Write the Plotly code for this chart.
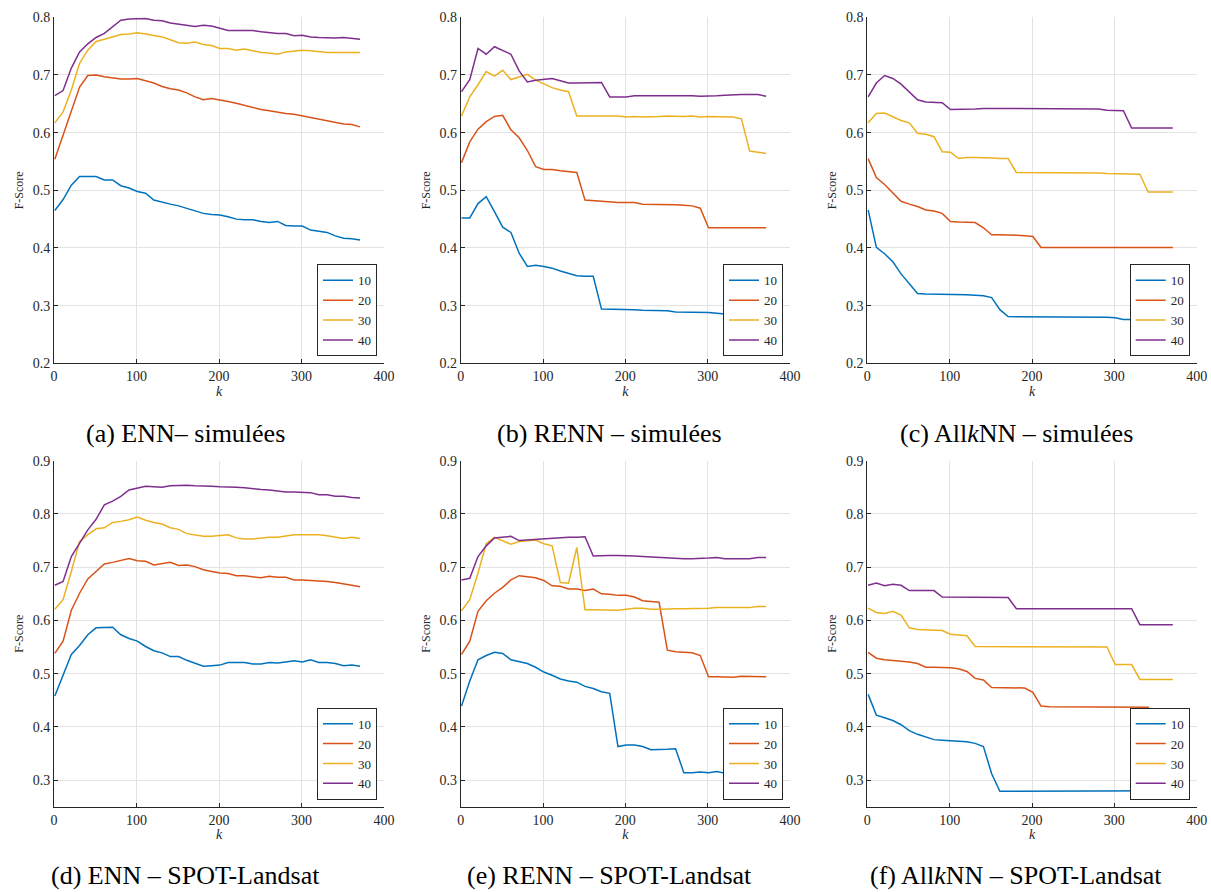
import plotly.graph_objects as go
from plotly.subplots import make_subplots

# =========================
# Données (F-Score en fonction de k)
# =========================
K = list(range(1, 372, 10))
SERIES = ["10", "20", "30", "40"]
COLORS = ["#0072BD", "#D95319", "#EDB120", "#7E2F8E"]

# (a) ENN - simulées
ENN_SIM_10 = [0.465, 0.484, 0.509, 0.524, 0.524, 0.524, 0.518, 0.518, 0.508, 0.504, 0.498, 0.495, 0.483,
              0.479, 0.476, 0.473, 0.469, 0.465, 0.460, 0.458, 0.457, 0.454, 0.450, 0.449, 0.449, 0.446,
              0.444, 0.446, 0.439, 0.438, 0.438, 0.431, 0.429, 0.427, 0.421, 0.417, 0.416, 0.414]
ENN_SIM_20 = [0.554, 0.596, 0.639, 0.679, 0.699, 0.700, 0.697, 0.695, 0.693, 0.693, 0.694, 0.690, 0.686,
              0.680, 0.676, 0.674, 0.669, 0.662, 0.657, 0.659, 0.657, 0.654, 0.651, 0.647, 0.644, 0.640,
              0.638, 0.635, 0.633, 0.632, 0.629, 0.627, 0.624, 0.621, 0.618, 0.615, 0.614, 0.610]
ENN_SIM_30 = [0.617, 0.636, 0.674, 0.720, 0.743, 0.758, 0.762, 0.766, 0.770, 0.771, 0.773, 0.771, 0.768,
              0.766, 0.761, 0.756, 0.755, 0.757, 0.753, 0.751, 0.746, 0.746, 0.743, 0.745, 0.742, 0.739,
              0.738, 0.736, 0.740, 0.742, 0.743, 0.742, 0.740, 0.739, 0.739, 0.739, 0.739, 0.739]
ENN_SIM_40 = [0.664, 0.673, 0.712, 0.740, 0.754, 0.765, 0.772, 0.784, 0.795, 0.797, 0.797, 0.798, 0.795,
              0.794, 0.790, 0.788, 0.786, 0.784, 0.786, 0.785, 0.781, 0.777, 0.777, 0.777, 0.777, 0.775,
              0.773, 0.772, 0.772, 0.768, 0.769, 0.766, 0.765, 0.764, 0.764, 0.765, 0.763, 0.762]

# (b) RENN - simulées
RENN_SIM_10 = [0.452, 0.452, 0.477, 0.489, 0.463, 0.436, 0.427, 0.391, 0.368, 0.370, 0.368, 0.365, 0.360,
               0.356, 0.352, 0.351, 0.351, 0.294, 0.294, 0.293, 0.293, 0.293, 0.292, 0.292, 0.292, 0.291,
               0.289, 0.289, 0.289, 0.289, 0.288, 0.287, 0.286, 0.285, 0.283, 0.281, 0.280, 0.279]
RENN_SIM_20 = [0.548, 0.584, 0.606, 0.619, 0.628, 0.630, 0.605, 0.591, 0.569, 0.541, 0.536, 0.536, 0.534,
               0.532, 0.531, 0.483, 0.482, 0.480, 0.479, 0.479, 0.479, 0.479, 0.476, 0.476, 0.476, 0.475,
               0.475, 0.474, 0.473, 0.469, 0.435, 0.435, 0.435, 0.435, 0.435, 0.435, 0.435, 0.435]
RENN_SIM_30 = [0.629, 0.662, 0.683, 0.706, 0.698, 0.708, 0.692, 0.696, 0.701, 0.691, 0.684, 0.678, 0.674,
               0.671, 0.629, 0.629, 0.629, 0.629, 0.630, 0.629, 0.627, 0.628, 0.627, 0.627, 0.628, 0.629,
               0.628, 0.628, 0.629, 0.627, 0.628, 0.628, 0.628, 0.627, 0.624, 0.568, 0.566, 0.564]
RENN_SIM_40 = [0.671, 0.692, 0.746, 0.736, 0.749, 0.742, 0.736, 0.707, 0.688, 0.691, 0.692, 0.694, 0.690,
               0.686, 0.686, 0.686, 0.686, 0.687, 0.662, 0.662, 0.662, 0.664, 0.664, 0.665, 0.665, 0.665,
               0.664, 0.664, 0.664, 0.663, 0.663, 0.664, 0.665, 0.666, 0.666, 0.666, 0.666, 0.663]

# (c) AllkNN - simulées
ALLKNN_SIM_10 = [0.466, 0.401, 0.390, 0.376, 0.355, 0.338, 0.321, 0.320, 0.320, 0.320, 0.319, 0.319, 0.319,
                 0.318, 0.317, 0.314, 0.293, 0.281, 0.281, 0.281, 0.281, 0.281, 0.281, 0.281, 0.281, 0.281,
                 0.280, 0.280, 0.280, 0.280, 0.279, 0.276, 0.276, 0.276, 0.276, 0.275, 0.275, 0.275]
ALLKNN_SIM_20 = [0.555, 0.522, 0.510, 0.496, 0.481, 0.476, 0.472, 0.466, 0.464, 0.460, 0.446, 0.445, 0.445,
                 0.444, 0.435, 0.423, 0.423, 0.423, 0.422, 0.421, 0.420, 0.401, 0.401, 0.401, 0.401, 0.401,
                 0.401, 0.401, 0.401, 0.401, 0.401, 0.401, 0.401, 0.401, 0.401, 0.401, 0.401, 0.401]
ALLKNN_SIM_30 = [0.617, 0.633, 0.634, 0.627, 0.621, 0.617, 0.599, 0.597, 0.593, 0.567, 0.566, 0.555, 0.557,
                 0.557, 0.557, 0.556, 0.555, 0.555, 0.531, 0.531, 0.531, 0.530, 0.530, 0.530, 0.530, 0.530,
                 0.530, 0.530, 0.530, 0.529, 0.529, 0.529, 0.529, 0.528, 0.497, 0.497, 0.497, 0.497]
ALLKNN_SIM_40 = [0.662, 0.686, 0.699, 0.694, 0.684, 0.671, 0.657, 0.653, 0.653, 0.652, 0.640, 0.640, 0.640,
                 0.641, 0.642, 0.642, 0.642, 0.642, 0.642, 0.642, 0.642, 0.642, 0.642, 0.641, 0.641, 0.641,
                 0.641, 0.641, 0.641, 0.639, 0.638, 0.638, 0.608, 0.608, 0.608, 0.608, 0.608, 0.608]

# (d) ENN - SPOT-Landsat
ENN_SPOT_10 = [0.458, 0.497, 0.536, 0.553, 0.573, 0.586, 0.587, 0.587, 0.573, 0.566, 0.561, 0.551, 0.543,
               0.539, 0.532, 0.532, 0.525, 0.519, 0.514, 0.515, 0.516, 0.521, 0.521, 0.521, 0.518, 0.518,
               0.521, 0.520, 0.522, 0.524, 0.522, 0.526, 0.521, 0.521, 0.519, 0.515, 0.516, 0.514]
ENN_SPOT_20 = [0.538, 0.561, 0.619, 0.651, 0.678, 0.692, 0.706, 0.709, 0.712, 0.716, 0.712, 0.711, 0.704,
               0.706, 0.709, 0.703, 0.704, 0.701, 0.695, 0.692, 0.689, 0.688, 0.684, 0.684, 0.682, 0.680,
               0.683, 0.681, 0.681, 0.676, 0.676, 0.675, 0.675, 0.673, 0.671, 0.669, 0.666, 0.663]
ENN_SPOT_30 = [0.621, 0.639, 0.692, 0.748, 0.761, 0.772, 0.774, 0.784, 0.786, 0.789, 0.794, 0.788, 0.784,
               0.781, 0.774, 0.771, 0.763, 0.760, 0.758, 0.758, 0.760, 0.761, 0.755, 0.753, 0.753, 0.755,
               0.756, 0.756, 0.759, 0.761, 0.761, 0.761, 0.761, 0.759, 0.756, 0.754, 0.756, 0.754]
ENN_SPOT_40 = [0.666, 0.673, 0.720, 0.745, 0.770, 0.790, 0.817, 0.824, 0.833, 0.845, 0.849, 0.852, 0.851,
               0.850, 0.853, 0.854, 0.854, 0.853, 0.853, 0.852, 0.851, 0.851, 0.850, 0.849, 0.847, 0.846,
               0.845, 0.843, 0.841, 0.841, 0.840, 0.840, 0.836, 0.836, 0.833, 0.833, 0.831, 0.830]

# (e) RENN - SPOT-Landsat
RENN_SPOT_10 = [0.439, 0.486, 0.526, 0.534, 0.540, 0.538, 0.526, 0.523, 0.519, 0.512, 0.503, 0.497, 0.490,
                0.486, 0.484, 0.476, 0.472, 0.466, 0.463, 0.363, 0.366, 0.366, 0.363, 0.357, 0.357, 0.358,
                0.359, 0.314, 0.314, 0.315, 0.314, 0.316, 0.313, 0.313, 0.312, 0.311, 0.311, 0.310]
RENN_SPOT_20 = [0.536, 0.561, 0.617, 0.637, 0.651, 0.662, 0.676, 0.684, 0.682, 0.680, 0.675, 0.665, 0.664,
                0.659, 0.659, 0.656, 0.659, 0.650, 0.649, 0.647, 0.647, 0.644, 0.637, 0.636, 0.634, 0.544,
                0.541, 0.540, 0.539, 0.534, 0.494, 0.494, 0.493, 0.493, 0.495, 0.495, 0.495, 0.494]
RENN_SPOT_30 = [0.618, 0.639, 0.689, 0.744, 0.756, 0.749, 0.743, 0.748, 0.750, 0.751, 0.744, 0.740, 0.671,
                0.670, 0.737, 0.620, 0.620, 0.620, 0.620, 0.619, 0.621, 0.623, 0.623, 0.621, 0.621, 0.622,
                0.622, 0.622, 0.622, 0.623, 0.623, 0.624, 0.624, 0.624, 0.625, 0.624, 0.626, 0.626]
RENN_SPOT_40 = [0.676, 0.679, 0.720, 0.740, 0.755, 0.756, 0.758, 0.750, 0.751, 0.753, 0.754, 0.755, 0.756,
                0.756, 0.756, 0.757, 0.721, 0.722, 0.722, 0.722, 0.722, 0.721, 0.720, 0.719, 0.719, 0.718,
                0.716, 0.716, 0.716, 0.716, 0.717, 0.718, 0.716, 0.716, 0.716, 0.716, 0.718, 0.718]

# (f) AllkNN - SPOT-Landsat
ALLKNN_SPOT_10 = [0.461, 0.422, 0.417, 0.412, 0.404, 0.393, 0.386, 0.381, 0.376, 0.375, 0.374, 0.373, 0.372,
                  0.369, 0.363, 0.312, 0.279, 0.279, 0.279, 0.279, 0.279, 0.280, 0.280, 0.280, 0.280, 0.280,
                  0.280, 0.280, 0.280, 0.280, 0.280, 0.280, 0.280, 0.280, 0.280, 0.280, 0.280, 0.280]
ALLKNN_SPOT_20 = [0.540, 0.529, 0.526, 0.525, 0.523, 0.522, 0.519, 0.512, 0.512, 0.512, 0.511, 0.509, 0.504,
                  0.491, 0.488, 0.474, 0.474, 0.474, 0.473, 0.473, 0.465, 0.439, 0.438, 0.438, 0.438, 0.438,
                  0.438, 0.438, 0.438, 0.438, 0.438, 0.438, 0.438, 0.438, 0.437, 0.416, 0.396, 0.396]
ALLKNN_SPOT_30 = [0.623, 0.615, 0.613, 0.617, 0.610, 0.586, 0.583, 0.582, 0.581, 0.581, 0.574, 0.573, 0.571,
                  0.551, 0.551, 0.551, 0.551, 0.551, 0.551, 0.551, 0.551, 0.551, 0.551, 0.551, 0.551, 0.551,
                  0.551, 0.551, 0.551, 0.550, 0.517, 0.517, 0.517, 0.489, 0.489, 0.489, 0.489, 0.489]
ALLKNN_SPOT_40 = [0.666, 0.670, 0.665, 0.668, 0.666, 0.656, 0.656, 0.656, 0.656, 0.644, 0.644, 0.644, 0.644,
                  0.644, 0.644, 0.644, 0.643, 0.643, 0.622, 0.622, 0.622, 0.622, 0.622, 0.622, 0.622, 0.622,
                  0.622, 0.622, 0.622, 0.622, 0.622, 0.622, 0.622, 0.592, 0.592, 0.592, 0.592, 0.592]

CAPTIONS = [
    "(a) ENN– simulées", "(b) RENN – simulées", "(c) All<i>k</i>NN – simulées",
    "(d) ENN – SPOT-Landsat", "(e) RENN – SPOT-Landsat", "(f) All<i>k</i>NN – SPOT-Landsat",
]

PANELS = [
    [ENN_SIM_10, ENN_SIM_20, ENN_SIM_30, ENN_SIM_40],
    [RENN_SIM_10, RENN_SIM_20, RENN_SIM_30, RENN_SIM_40],
    [ALLKNN_SIM_10, ALLKNN_SIM_20, ALLKNN_SIM_30, ALLKNN_SIM_40],
    [ENN_SPOT_10, ENN_SPOT_20, ENN_SPOT_30, ENN_SPOT_40],
    [RENN_SPOT_10, RENN_SPOT_20, RENN_SPOT_30, RENN_SPOT_40],
    [ALLKNN_SPOT_10, ALLKNN_SPOT_20, ALLKNN_SPOT_30, ALLKNN_SPOT_40],
]

# =========================
# Mise en page (pixels)
# =========================
W, H = 1211, 892
COL_X = [(54, 384), (460.7, 790), (867.3, 1196.7)]
ROW_Y = [(17.3, 363.3), (460.7, 806.7)]
CAP_X = [185, 609, 1016]
CAP_Y = [433, 875]
Y_RANGES = [(0.2, 0.8), (0.25, 0.9)]
Y_TICKS = [[0.2, 0.3, 0.4, 0.5, 0.6, 0.7, 0.8], [0.3, 0.4, 0.5, 0.6, 0.7, 0.8, 0.9]]

SERIF = "Liberation Serif"
INK = "#262626"

fig = make_subplots(rows=2, cols=3)

layout = {}
for i, series in enumerate(PANELS):
    r, c = divmod(i, 3)
    leg = "legend" if i == 0 else f"legend{i + 1}"
    for name, ys, color in zip(SERIES, series, COLORS):
        fig.add_trace(
            go.Scatter(
                x=K, y=ys, mode="lines", name=name,
                line=dict(color=color, width=1.5),
                legend=leg,
            ),
            row=r + 1, col=c + 1,
        )

    x0, x1 = COL_X[c]
    y0, y1 = ROW_Y[r]
    sfx = "" if i == 0 else str(i + 1)
    layout[f"xaxis{sfx}"] = dict(
        domain=[x0 / W, x1 / W], range=[0, 400], automargin=False,
        tickvals=[0, 100, 200, 300, 400],
        showgrid=True, gridcolor="#e3e3e3", gridwidth=1,
        showline=True, linecolor=INK, linewidth=1,
        ticks="inside", ticklen=4, tickcolor=INK,
        tickfont=dict(family=SERIF, size=14, color=INK),
        title=dict(text="<i>k</i>", font=dict(family=SERIF, size=14, color=INK), standoff=0),
        zeroline=False,
    )
    layout[f"yaxis{sfx}"] = dict(
        domain=[1 - y1 / H, 1 - y0 / H], range=list(Y_RANGES[r]), automargin=False,
        tickvals=Y_TICKS[r], tickformat=".1f",
        showgrid=True, gridcolor="#e3e3e3", gridwidth=1,
        showline=True, linecolor=INK, linewidth=1,
        ticks="inside", ticklen=4, tickcolor=INK,
        tickfont=dict(family=SERIF, size=14, color=INK),
        title=dict(text="F-Score", font=dict(family=SERIF, size=12, color=INK), standoff=6),
        zeroline=False,
    )
    layout[leg] = dict(
        x=(x1 - 7) / W, y=1 - (y1 - 7) / H, xanchor="right", yanchor="bottom",
        bgcolor="white", bordercolor=INK, borderwidth=1,
        font=dict(family=SERIF, size=13, color=INK),
        itemwidth=30, tracegroupgap=0,
    )

annotations = []
for i, text in enumerate(CAPTIONS):
    r, c = divmod(i, 3)
    annotations.append(dict(
        text=text, x=CAP_X[c] / W, y=1 - CAP_Y[r] / H,
        xref="paper", yref="paper", xanchor="center", yanchor="middle",
        showarrow=False, font=dict(family=SERIF, size=26, color="black"),
    ))

fig.update_layout(
    width=W, height=H,
    margin=dict(l=0, r=0, t=0, b=0, autoexpand=False),
    paper_bgcolor="white", plot_bgcolor="white",
    font=dict(family=SERIF),
    showlegend=True,
    annotations=annotations,
    **layout,
)

# la page HTML a une marge de 8 px par défaut : on la retire
fig.write_html(
    "out.html",
    config={"displayModeBar": False},
    post_script="document.body.style.margin='0'; document.body.style.overflow='hidden';",
)
